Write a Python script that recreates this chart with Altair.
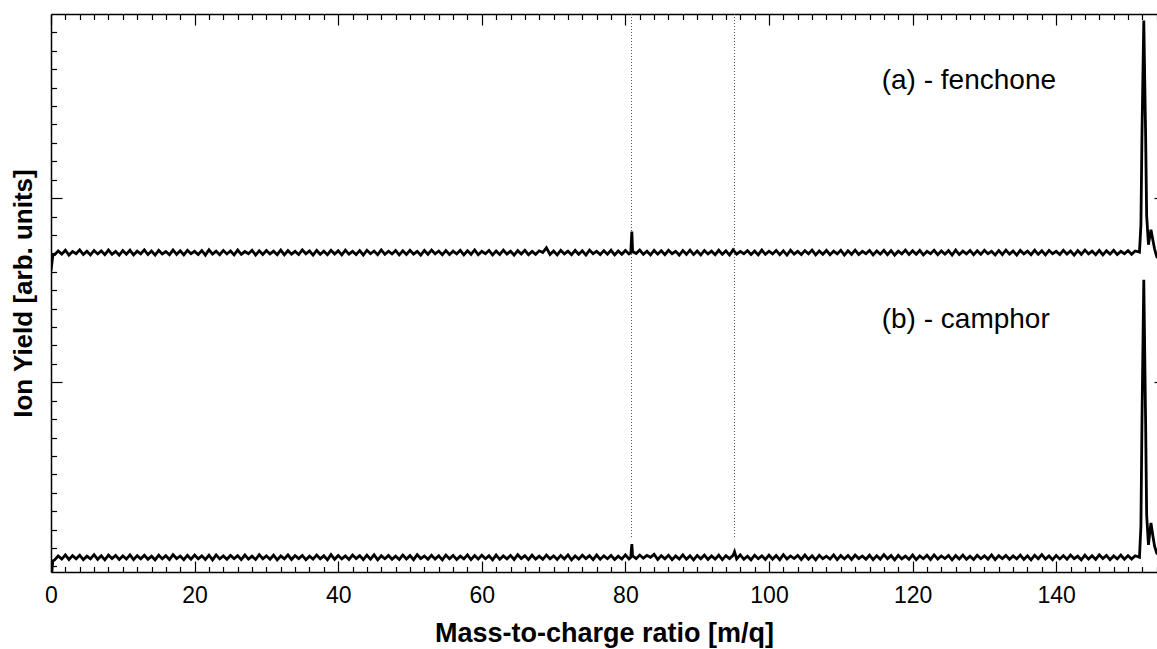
import altair as alt
import pandas as pd

# ---------------- data ----------------
# fenchone trace (a): samples at integer m/q (index = m/q)
fen_int = [-0.050,
    0.058, 0.062, 0.055, 0.064, 0.057, 0.061, 0.059, 0.063, 0.056, 0.060,
    0.062, 0.057, 0.064, 0.058, 0.061, 0.055, 0.063, 0.059, 0.062, 0.056,
    0.060, 0.064, 0.057, 0.061, 0.058, 0.063, 0.055, 0.062, 0.059, 0.061,
    0.057, 0.063, 0.060, 0.056, 0.064, 0.058, 0.061, 0.057, 0.062, 0.059,
    0.063, 0.056, 0.060, 0.062, 0.058, 0.064, 0.057, 0.061, 0.059, 0.062,
    0.056, 0.061, 0.063, 0.058, 0.060, 0.057, 0.062, 0.059, 0.064, 0.056,
    0.061, 0.058, 0.063, 0.057, 0.060, 0.062, 0.056, 0.059, 0.075, 0.058,
    0.062, 0.057, 0.061, 0.059, 0.063, 0.056, 0.060, 0.062, 0.058, 0.061,
    0.055,
    0.063, 0.057, 0.061, 0.059, 0.062, 0.056, 0.060, 0.063, 0.058,
    0.061, 0.057, 0.062, 0.059, 0.064, 0.056, 0.060, 0.058, 0.063, 0.057,
    0.061, 0.059, 0.062, 0.056, 0.060, 0.063, 0.058, 0.061, 0.057, 0.062,
    0.059, 0.063, 0.056, 0.061, 0.058, 0.062, 0.060, 0.057, 0.063, 0.059,
    0.061, 0.056, 0.062, 0.058, 0.060, 0.063, 0.057, 0.061, 0.059, 0.062,
    0.056, 0.060, 0.063, 0.058, 0.061, 0.057, 0.062, 0.059, 0.061, 0.056,
    0.062, 0.058, 0.060, 0.063, 0.057, 0.061, 0.059, 0.062, 0.056, 0.060, 0.058]
# fenchone samples at half-integer m/q (0.5, 1.5, ... 150.5)
fen_half = [
    0.038, 0.041, 0.036, 0.043, 0.039, 0.037, 0.042, 0.038, 0.040, 0.036,
    0.041, 0.037, 0.043, 0.039, 0.036, 0.042, 0.038, 0.040, 0.037, 0.043,
    0.039, 0.036, 0.041, 0.038, 0.042, 0.037, 0.040, 0.043, 0.036, 0.039,
    0.042, 0.038, 0.037, 0.041, 0.039, 0.043, 0.036, 0.040, 0.038, 0.042,
    0.037, 0.041, 0.039, 0.036, 0.043, 0.038, 0.040, 0.042, 0.037, 0.039,
    0.041, 0.036, 0.040, 0.043, 0.038, 0.039, 0.042, 0.037, 0.040, 0.038,
    0.043, 0.037, 0.039, 0.041, 0.036, 0.042, 0.038, 0.040, 0.050, 0.039,
    0.037, 0.042, 0.038, 0.040, 0.036, 0.043, 0.039, 0.041, 0.037, 0.040,
    0.042, 0.044, 0.040, 0.037, 0.041, 0.038, 0.043, 0.036, 0.040, 0.039,
    0.037, 0.042, 0.038, 0.040, 0.036, 0.041, 0.043, 0.039, 0.037, 0.040,
    0.042, 0.038, 0.036, 0.041, 0.039, 0.043, 0.037, 0.040, 0.038, 0.042,
    0.036, 0.040, 0.039, 0.043, 0.037, 0.041, 0.038, 0.036, 0.042, 0.039,
    0.040, 0.037, 0.043, 0.038, 0.041, 0.036, 0.039, 0.042, 0.038, 0.040,
    0.043, 0.037, 0.039, 0.041, 0.036, 0.042, 0.038, 0.040, 0.037, 0.043,
    0.039, 0.041, 0.036, 0.040, 0.042, 0.038, 0.037, 0.041, 0.039, 0.043, 0.040]
# extra samples around the peaks (fenchone)
fen_peak_mz = [0.25, 80.75, 80.9,
               151.6, 151.8, 151.95, 152.2, 152.45, 152.6, 152.85,
               153.0, 153.2, 153.45, 153.7, 154.0, 154.5]
fen_peak_val = [0.035, 0.050, 0.163,
                0.052, 0.20, 0.70, 1.31, 0.70, 0.25, 0.092,
                0.13, 0.174, 0.12, 0.07, 0.027, 0.01]

# camphor trace (b)
cam_int = [-0.080,
    0.057, 0.063, 0.059, 0.061, 0.056, 0.064, 0.058, 0.062, 0.060, 0.057,
    0.063, 0.059, 0.061, 0.056, 0.062, 0.058, 0.064, 0.057, 0.060, 0.062,
    0.058, 0.061, 0.063, 0.057, 0.060, 0.059, 0.062, 0.056, 0.064, 0.058,
    0.061, 0.057, 0.063, 0.059, 0.060, 0.056, 0.062, 0.058, 0.064, 0.060,
    0.057, 0.062, 0.059, 0.061, 0.063, 0.058, 0.060, 0.056, 0.062, 0.059,
    0.064, 0.057, 0.061, 0.058, 0.062, 0.060, 0.056, 0.063, 0.059, 0.061,
    0.058, 0.062, 0.057, 0.060, 0.064, 0.059, 0.061, 0.056, 0.062, 0.058,
    0.060, 0.063, 0.057, 0.061, 0.059, 0.062, 0.058, 0.060, 0.056, 0.063,
    0.058,
    0.062, 0.060, 0.066, 0.059, 0.061, 0.057, 0.063, 0.058, 0.060,
    0.062, 0.057, 0.061, 0.059, 0.060, 0.063, 0.056, 0.061, 0.058, 0.062,
    0.059, 0.064, 0.057, 0.060, 0.062, 0.058, 0.061, 0.056, 0.063, 0.059,
    0.060, 0.062, 0.057, 0.061, 0.058, 0.064, 0.059, 0.060, 0.056, 0.062,
    0.058, 0.061, 0.063, 0.057, 0.060, 0.059, 0.062, 0.056, 0.061, 0.058,
    0.063, 0.059, 0.060, 0.057, 0.062, 0.058, 0.061, 0.064, 0.057, 0.060,
    0.059, 0.062, 0.056, 0.061, 0.058, 0.063, 0.060, 0.057, 0.062, 0.059, 0.058]
cam_half = [
    0.036, 0.040, 0.038, 0.042, 0.037, 0.041, 0.039, 0.036, 0.043, 0.038,
    0.040, 0.037, 0.042, 0.039, 0.036, 0.041, 0.038, 0.043, 0.037, 0.040,
    0.042, 0.038, 0.036, 0.041, 0.039, 0.043, 0.037, 0.040, 0.038, 0.042,
    0.039, 0.036, 0.041, 0.038, 0.043, 0.037, 0.040, 0.042, 0.036, 0.039,
    0.041, 0.038, 0.043, 0.037, 0.040, 0.036, 0.042, 0.039, 0.038, 0.041,
    0.037, 0.043, 0.039, 0.040, 0.036, 0.042, 0.038, 0.041, 0.037, 0.040,
    0.042, 0.036, 0.039, 0.041, 0.038, 0.043, 0.037, 0.040, 0.039, 0.042,
    0.038, 0.041, 0.036, 0.040, 0.043, 0.037, 0.039, 0.042, 0.038, 0.040,
    0.041, 0.043, 0.045, 0.050, 0.038, 0.042, 0.037, 0.040, 0.039, 0.036,
    0.042, 0.038, 0.040, 0.037, 0.043, 0.041, 0.039, 0.036, 0.042, 0.038,
    0.040, 0.037, 0.041, 0.043, 0.038, 0.039, 0.036, 0.042, 0.040, 0.037,
    0.041, 0.038, 0.043, 0.039, 0.037, 0.040, 0.042, 0.036, 0.041, 0.039,
    0.037, 0.042, 0.038, 0.040, 0.043, 0.036, 0.041, 0.039, 0.038, 0.042,
    0.040, 0.037, 0.043, 0.039, 0.041, 0.038, 0.036, 0.042, 0.040, 0.037,
    0.041, 0.039, 0.042, 0.036, 0.040, 0.038, 0.043, 0.037, 0.041, 0.039, 0.040]
cam_peak_mz = [0.25, 80.75, 80.9, 95.2,
               151.6, 151.8, 151.95, 152.2, 152.45, 152.6, 152.85,
               153.0, 153.2, 153.45, 153.7, 154.0, 154.5]
cam_peak_val = [0.030, 0.050, 0.122, 0.080,
                0.050, 0.22, 0.80, 1.557, 0.80, 0.28, 0.117,
                0.17, 0.236, 0.17, 0.11, 0.073, 0.06]

series_offset = {"a": 1.655, "b": 0.0}

marker_mz = [80.85, 95.2]          # dotted reference lines
marker_lo, marker_hi = 0.16, 3.0

labels_text = ["(a) - fenchone", "(b) - camphor"]
labels_mz = [115.7, 115.7]
labels_v = [2.592, 1.295]

x_major = [0, 20, 40, 60, 80, 100, 120, 140]
x_minor = [2, 4, 6, 8, 10, 12, 14, 16, 18, 22, 24, 26, 28, 30, 32, 34, 36, 38,
           42, 44, 46, 48, 50, 52, 54, 56, 58, 62, 64, 66, 68, 70, 72, 74, 76, 78,
           82, 84, 86, 88, 90, 92, 94, 96, 98, 102, 104, 106, 108, 110, 112, 114,
           116, 118, 122, 124, 126, 128, 130, 132, 134, 136, 138, 142, 144, 146,
           148, 150, 152, 154]
y_major = [1, 2]
y_minor = [0, 0.1, 0.2, 0.3, 0.4, 0.5, 0.6, 0.7, 0.8, 0.9,
           1.1, 1.2, 1.3, 1.4, 1.5, 1.6, 1.7, 1.8, 1.9,
           2.1, 2.2, 2.3, 2.4, 2.5, 2.6, 2.7, 2.8, 2.9]

# ---------------- tables ----------------
def trace(name, ints, halves, pmz, pval):
    d1 = pd.DataFrame({"mz": [float(i) for i in range(len(ints))], "val": ints})
    d2 = pd.DataFrame({"mz": [i + 0.5 for i in range(len(halves))], "val": halves})
    d3 = pd.DataFrame({"mz": pmz, "val": pval})
    d = pd.concat([d1, d2, d3]).sort_values("mz").reset_index(drop=True)
    d["series"] = name
    d["v"] = d["val"] + series_offset[name]
    return d

lines_df = pd.concat([trace("a", fen_int, fen_half, fen_peak_mz, fen_peak_val),
                      trace("b", cam_int, cam_half, cam_peak_mz, cam_peak_val)])
rules_df = pd.DataFrame({"mz": marker_mz, "v": [marker_lo] * 2, "v2": [marker_hi] * 2})
text_df = pd.DataFrame({"mz": labels_mz, "v": labels_v, "label": labels_text})
anchor_df = pd.DataFrame({"mz": [0.0, 154.0], "v": [0.0, 3.0]})

W, H = 1106, 558
FONT = "Liberation Sans"
xs = alt.Scale(domain=[0, 154.04], nice=False, zero=False)
ys = alt.Scale(domain=[-0.03, 3.0], nice=False, zero=False)

def tick_axis(orient, offset, values, size):
    return alt.Axis(orient=orient, offset=offset, values=values, tickSize=size,
                    labels=False, domain=False, grid=False, title=None,
                    tickColor="black", tickWidth=1.2)

lines = alt.Chart(lines_df).mark_line(color="black", strokeWidth=2.8, clip=True).encode(
    x=alt.X("mz:Q", scale=xs,
            axis=alt.Axis(orient="bottom", values=x_major, ticks=False, tickSize=0,
                          labelFontSize=23, labelPadding=12, labelFlush=False,
                          labelColor="black", labelFont=FONT,
                          domainColor="black", domainWidth=1.5, grid=False,
                          title="Mass-to-charge ratio [m/q]", titleFontSize=27,
                          titleFont=FONT, titleFontWeight="bold", titleColor="black",
                          titlePadding=13)),
    y=alt.Y("v:Q", scale=ys,
            axis=alt.Axis(orient="left", ticks=False, tickSize=0, labels=False,
                          domainColor="black", domainWidth=1.5, grid=False,
                          title="Ion Yield [arb. units]", titleFontSize=26,
                          titleFont=FONT, titleFontWeight="bold", titleColor="black",
                          titlePadding=15)),
    detail="series:N",
    order="mz:Q",
)

def axis_layer(xaxis, yaxis):
    return alt.Chart(anchor_df).mark_point(opacity=0).encode(
        x=alt.X("mz:Q", scale=xs, axis=xaxis),
        y=alt.Y("v:Q", scale=ys, axis=yaxis),
    )

ax1 = axis_layer(tick_axis("top", -H, x_major, 11), tick_axis("right", -W, y_major, 11))
ax2 = axis_layer(tick_axis("top", -H, x_minor, 5.5), tick_axis("right", -W, y_minor, 5.5))
ax3 = axis_layer(tick_axis("bottom", -H, x_major, 11), tick_axis("left", -W, y_major, 3))
ax4 = axis_layer(tick_axis("bottom", -H, x_minor, 5.5), None)
ax5 = axis_layer(alt.Axis(orient="top", ticks=False, labels=False, domain=True,
                          domainColor="black", domainWidth=1.5, grid=False, title=None),
                 None)

rules = alt.Chart(rules_df).mark_rule(color="#555555", strokeDash=[1, 2], strokeWidth=1).encode(
    x=alt.X("mz:Q", scale=xs, axis=None),
    y=alt.Y("v:Q", scale=ys, axis=None),
    y2="v2:Q",
)

texts = alt.Chart(text_df).mark_text(align="left", baseline="alphabetic", fontSize=28,
                                     font=FONT, color="black").encode(
    x=alt.X("mz:Q", scale=xs, axis=None),
    y=alt.Y("v:Q", scale=ys, axis=None),
    text="label:N",
)

chart = alt.layer(rules, lines, texts, ax1, ax2, ax3, ax4, ax5).resolve_axis(
    x="independent", y="independent"
).properties(
    width=W, height=H,
    autosize=alt.AutoSizeParams(type="none"),
    padding={"left": 51, "top": 14, "right": 0, "bottom": 77},
).configure_view(strokeWidth=0).configure(font=FONT, background="white")

chart.save("out.html", embed_options={"renderer": "svg", "actions": False})
